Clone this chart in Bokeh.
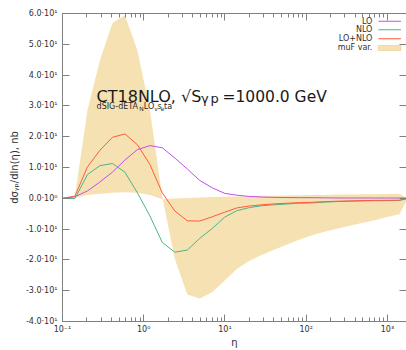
from bokeh.plotting import figure
from bokeh.models import (FixedTicker, CustomJSTickFormatter, LinearAxis, LogAxis,
                          Label, BoxAnnotation, ColumnDataSource)
from bokeh.embed import file_html
from bokeh.resources import INLINE

# ---------------- data ----------------
eta = [0.1, 0.142, 0.203, 0.289, 0.412, 0.586, 0.835, 1.19, 1.69, 2.41, 3.44, 4.89,
       6.97, 9.93, 14.1, 20.1, 28.7, 40.9, 58.2, 82.9, 118, 168, 239, 341, 486, 692,
       986, 1404, 2000]
lo = [0, 0.5, 2.4, 5.3, 8.5, 12.4, 15.8, 17.1, 16.4, 13.1, 9.5, 5.8, 3.4, 1.6, 1.0,
      0.6, 0.4, 0.3, 0.25, 0.2, 0.2, 0.15, 0.1, 0.1, 0.1, 0.1, 0.1, 0.1, 0.1]
nlo = [0, -0.1, 7.7, 10.6, 11.3, 8.5, 1.8, -5.7, -14.3, -17.5, -16.8, -13.0, -9.8,
       -6.1, -4.0, -3.0, -2.4, -2.1, -1.85, -1.6, -1.5, -1.25, -1.05, -0.95, -0.85,
       -0.78, -0.75, -0.7, 0.2]
lo_nlo = [0, 0.7, 10.2, 15.6, 19.8, 20.9, 17.4, 11.0, 1.8, -4.1, -7.3, -7.4, -6.0,
          -4.5, -3.1, -2.5, -2.1, -1.8, -1.6, -1.4, -1.3, -1.1, -0.95, -0.85, -0.75,
          -0.68, -0.65, -0.6, 0.3]
muf_a = [0, 0.5, 28.7, 44.8, 56.9, 59.4, 48.1, 28.7, 0.6, -19.6, -31.2, -32.5, -30.5,
         -26.7, -22.9, -20.3, -18.3, -16.6, -15.0, -13.4, -12.0, -10.9, -9.9, -8.9,
         -8.0, -7.1, -6.1, -5.2, 2.5]
muf_b = [0, 0.2, 1.1, 1.5, 1.8, 2.0, 1.8, 1.1, -0.3, -0.1, 0.1, 0.3, 0.4, 0.5, 0.6,
         0.7, 0.8, 0.85, 0.9, 1.0, 1.05, 1.1, 1.2, 1.25, 1.3, 1.35, 1.4, 1.5, -1.0]

x_major = [0.1, 1, 10, 100, 1000]
x_minor = [m * 10.0 ** e for e in range(-1, 4) for m in range(2, 10)]
y_major = [-40, -30, -20, -10, 0, 10, 20, 30, 40, 50, 60]
legend_labels = ["LO", "NLO", "LO+NLO", "muF var."]

# ---------------- styles ----------------
C_LO = "#c050e6"
C_NLO = "#4db38a"
C_SUM = "#ff5a3a"
C_BAND = "#f6e1b2"
C_BAND_EDGE = "#e2a43a"
AX = "#808080"
TXT = "#303030"
FONT = "DejaVu Sans"

# reference-picture geometry, used only to place annotations
FL, DEC, Y0, PXU = 62.0, 81.0, 199.0, 3.1
XMAX = 10 ** ((405 - FL) / DEC - 1)


def px2x(px):
    return 10 ** ((px - FL) / DEC - 1)


def py2y(py):
    return (Y0 - py) / PXU


p = figure(x_axis_type="log", x_range=(0.1, XMAX), y_range=(-40, 60),
           width=406, height=350, output_backend="svg",
           toolbar_location=None, min_border_left=62, min_border_right=0,
           min_border_top=13, min_border_bottom=26)
p.outline_line_color = None
p.grid.visible = False
p.background_fill_color = "white"

src = ColumnDataSource(dict(x=eta, lo=lo, nlo=nlo, s=lo_nlo, a=muf_a, b=muf_b))
p.varea(x="x", y1="a", y2="b", source=src, fill_color=C_BAND)
p.line("x", "lo", source=src, line_color=C_LO, line_width=1)
p.line("x", "nlo", source=src, line_color=C_NLO, line_width=1)
p.line("x", "s", source=src, line_color=C_SUM, line_width=1)

sup_js = """
const sup = {'-':'\u207b','0':'\u2070','1':'\u00b9','2':'\u00b2','3':'\u00b3','4':'\u2074',
             '5':'\u2075','6':'\u2076','7':'\u2077','8':'\u2078','9':'\u2079'};
function s(n){ return String(n).split('').map(c => sup[c]).join(''); }
"""
xfmt = CustomJSTickFormatter(code=sup_js + "return '10' + s(Math.round(Math.log10(tick)));")
yfmt = CustomJSTickFormatter(code=sup_js + """
if (tick == 0) return '0.0\u00b710\u2070';
const e = Math.floor(Math.log10(Math.abs(tick)) + 1e-9);
const m = tick / Math.pow(10, e);
return m.toFixed(1) + '\u00b710' + s(e);
""")

xt = FixedTicker(ticks=x_major, minor_ticks=x_minor)
yt = FixedTicker(ticks=y_major)


def style_axis(ax, labels=True):
    ax.axis_line_color = AX
    ax.major_tick_line_color = AX
    ax.minor_tick_line_color = AX
    ax.major_tick_in = 7
    ax.major_tick_out = 0
    ax.minor_tick_out = 0
    if labels:
        ax.major_label_text_font = FONT
        ax.major_label_text_font_size = "8px"
        ax.major_label_text_color = TXT
    else:
        ax.major_label_text_font_size = "1px"
        ax.major_label_text_alpha = 0
        ax.major_label_standoff = 0


xa = p.xaxis[0]
xa.ticker = xt
xa.formatter = xfmt
style_axis(xa)
xa.minor_tick_in = 4
xa.major_label_standoff = 3
xa.axis_label = "\u03b7"
xa.axis_label_text_font = FONT
xa.axis_label_text_font_style = "normal"
xa.axis_label_text_font_size = "10px"
xa.axis_label_text_color = TXT
xa.axis_label_standoff = 0

ya = p.yaxis[0]
ya.ticker = yt
ya.formatter = yfmt
style_axis(ya)
ya.minor_tick_in = 0
ya.major_label_standoff = 5
ya.axis_label = "d\u03c3\u1d67\u209a/dln(\u03b7), nb"
ya.axis_label_text_font = FONT
ya.axis_label_text_font_style = "normal"
ya.axis_label_text_font_size = "10px"
ya.axis_label_text_color = TXT
ya.axis_label_standoff = 3

top = LogAxis(ticker=xt)
style_axis(top, labels=False)
top.minor_tick_in = 4
p.add_layout(top, "above")

right = LinearAxis(ticker=yt)
style_axis(right, labels=False)
right.axis_line_color = None
right.minor_tick_in = 0
p.add_layout(right, "right")


def txt(px, py, text, size, color="#1a1a1a", align="left", baseline="alphabetic"):
    p.add_layout(Label(x=px2x(px), y=py2y(py), text=text, text_align=align,
                       text_baseline=baseline, text_font=FONT,
                       text_font_size=size, text_color=color))


# ---------------- title texts ----------------
txt(96, 96.7, "CT18NLO, \u221aS", "16px")
txt(200, 98.5, "\u03b3", "13px")
txt(209.5, 98.5, "p", "13px")
txt(221.5, 96.7, "=1000.0 GeV", "15.5px")
sub_col = "#2a2a2a"
txt(96, 106.5, "dSIG-dETA", "8px", sub_col)
txt(138.5, 108.3, "N", "6px", sub_col)
txt(143, 106.5, "LO", "8px", sub_col)
txt(153.5, 108.3, "v", "6px", sub_col)
txt(156.7, 106.5, "s", "8px", sub_col)
txt(160, 108.3, "e", "6px", sub_col)
txt(163.3, 106.5, "ta", "8px", sub_col)

# ---------------- legend (text right-aligned, sample to the right) ----------------
leg_y = [20.7, 29.3, 38.3, 47.7]
leg_c = [C_LO, C_NLO, C_SUM]
for i, lab in enumerate(legend_labels):
    txt(371, leg_y[i], lab, "8px", TXT, align="right", baseline="middle")
    if i < 3:
        p.add_layout(BoxAnnotation(left=px2x(377), right=px2x(399.5),
                                   top=py2y(leg_y[i] - 0.5), bottom=py2y(leg_y[i] + 0.5),
                                   fill_color=leg_c[i], fill_alpha=1, line_color=None))
    else:
        p.add_layout(BoxAnnotation(left=px2x(377), right=px2x(399.5),
                                   top=py2y(leg_y[i] - 2.5), bottom=py2y(leg_y[i] + 2.5),
                                   fill_color=C_BAND, fill_alpha=1,
                                   line_color=C_BAND_EDGE, line_width=1))

open("out.html", "w").write(file_html(p, INLINE))
